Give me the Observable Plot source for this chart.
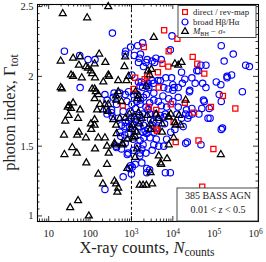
<!DOCTYPE html>
<html><head><meta charset="utf-8">
<script src="https://cdn.jsdelivr.net/npm/d3@7"></script>
<script src="https://cdn.jsdelivr.net/npm/@observablehq/plot@0.6"></script>
<style>body{margin:0;background:#fff}svg{display:block}</style>
</head><body><div id="chart"></div>
<script>
// log10(X-ray counts), photon index  — M_BH–sigma* sample (black triangles)
const triLogCounts = [1.34,1.93,2.44,1.29,1.59,1.76,1.73,1.90,1.95,2.02,2.22,2.37,2.85,2.83,1.54,1.59,1.80,2.05,2.12,2.44,2.46,2.68,2.32,2.88,2.93,1.29,1.32,2.05,2.11,2.68,2.63,2.63,2.44,1.49,1.59,1.46,1.54,1.76,1.48,1.40,1.71,2.02,2.03,1.37,1.69,1.73,1.90,1.57,1.38,1.68,1.91,1.71,1.52,1.97,2.12,2.41,2.45,2.59,2.78,2.41,2.20,2.31,2.59,2.63,2.68,2.66,2.90,2.11,2.11,2.20,2.36,2.63,2.64,2.56,2.72,2.60,2.79,3.13,3.09,3.03,3.09,3.20,3.28,3.36,3.90,4.15,4.19,4.07,3.74,3.46,3.46,4.02,3.90,3.66,3.86,3.70,3.72,3.46,3.50,5.16,3.54,4.05,4.21,4.13,3.48,3.40,3.44,3.36,4.31,3.10,3.17,3.15,3.60,3.64,3.89,3.95,3.38,2.11,2.14,2.20,2.11,2.24,2.36,2.17,2.32,2.44,2.76,2.95,3.07,3.17,3.02,2.85,3.74,4.05,3.20,3.12,3.00,2.90,3.25];
const triGamma     = [2.45,2.42,2.50,2.11,2.13,2.14,2.08,2.07,2.06,2.04,2.16,2.10,2.14,2.07,2.01,2.00,1.99,2.02,1.99,2.01,2.00,1.97,1.96,1.97,2.00,1.92,1.91,1.91,2.09,1.89,1.86,1.83,1.80,1.79,1.81,1.78,1.77,1.76,1.72,1.68,1.70,1.66,1.62,1.58,1.58,1.60,1.56,1.49,1.44,1.45,1.38,1.11,1.06,1.00,1.48,1.50,1.45,1.52,1.52,1.37,1.30,1.23,1.25,1.23,1.20,1.17,1.34,1.69,1.65,1.56,1.56,1.65,1.59,1.69,1.70,1.51,1.51,1.48,1.42,1.56,1.57,1.22,1.22,1.22,1.71,1.72,1.65,1.65,1.66,1.66,1.62,1.56,1.51,1.43,1.41,1.38,1.37,1.31,1.23,1.44,2.28,2.09,2.10,2.08,2.05,2.04,2.01,1.93,1.83,1.89,1.86,1.84,1.73,1.70,1.71,1.73,1.72,1.91,1.89,1.87,1.84,1.80,1.80,1.76,1.76,1.75,1.82,1.73,1.71,1.74,1.65,1.70,1.60,1.67,1.66,1.60,1.62,1.55,1.70];

// broad Hbeta/Halpha sample (blue circles)
const cirLogCounts = [1.38,1.75,1.95,2.12,1.76,2.54,2.98,2.86,2.85,3.19,3.17,3.29,3.35,3.01,3.17,3.21,3.37,2.93,3.05,2.85,2.72,2.56,2.58,2.36,2.41,2.89,3.01,3.13,3.21,3.29,3.36,2.40,2.52,2.64,2.80,2.97,2.41,2.52,2.54,2.68,2.85,2.93,3.03,3.12,3.21,3.29,3.33,3.37,3.28,3.09,3.17,2.95,2.85,2.76,2.72,2.74,3.21,3.28,3.25,3.21,3.20,2.64,2.76,2.90,3.09,2.98,2.95,3.37,3.37,2.80,2.36,2.63,2.92,3.02,2.84,2.92,3.04,3.46,3.58,3.70,3.82,3.66,3.54,3.46,4.31,4.39,4.47,4.63,4.10,3.51,3.62,3.54,3.66,3.78,4.31,4.35,3.82,3.94,3.44,4.90,5.20,4.68,5.17,5.46,5.24,5.76,5.85,3.15,3.27,3.07,3.22,3.38,3.56,4.21,4.58,4.62,4.29,4.46,5.31,5.05,5.68,3.83,3.97,3.64,3.54,3.40,3.24,3.89,4.03,4.13,3.14,3.27,3.42,3.54,4.54,4.72,4.74,4.76,5.17,3.76,4.13,4.41,3.22,3.44,3.54,3.72,4.13,4.33,4.70,4.85,5.17,3.40,3.27,3.79,3.80,4.21,4.36,4.25,3.98,3.94,3.50,3.59,3.72,4.68,4.80,5.31,5.42,4.80,5.16,5.12,4.88,4.23,4.00,4.00,4.40,4.46,3.78,3.70,3.50,3.10,3.35,3.00,3.40,3.55,3.60,3.30,3.45,3.15,2.85,3.05,3.35,3.50,3.95,4.05,3.85,3.00,3.25,3.85,4.00,3.65,3.90,3.20];
const cirGamma     = [2.18,2.15,2.12,2.12,1.92,2.31,2.21,2.18,2.16,2.13,2.10,2.07,2.10,2.01,1.96,1.93,1.93,1.89,1.87,1.87,1.88,1.85,1.88,1.87,1.83,1.82,1.80,1.82,1.80,1.85,1.87,1.76,1.76,1.80,1.75,1.75,1.73,1.74,1.71,1.70,1.67,1.68,1.66,1.69,1.68,1.65,1.61,1.59,1.60,1.61,1.64,1.64,1.64,1.65,1.60,1.57,1.54,1.51,1.48,1.45,1.43,1.49,1.48,1.44,1.37,1.36,1.34,1.34,1.31,1.28,1.19,1.50,1.45,1.35,1.58,1.59,1.55,1.73,1.73,1.72,1.73,1.69,1.68,1.69,1.73,1.72,1.73,1.73,1.73,1.65,1.63,1.51,1.50,1.50,1.52,1.53,1.31,1.31,1.33,1.70,1.63,1.51,2.22,2.16,2.11,2.08,2.07,2.22,2.24,2.15,2.16,2.12,2.10,2.03,2.04,2.04,1.98,1.99,1.99,1.96,1.89,1.99,1.99,1.97,1.95,1.95,1.96,1.91,1.92,1.92,1.87,1.92,1.92,1.88,1.95,1.95,1.83,1.82,1.82,1.86,1.85,1.90,1.83,1.81,1.83,1.79,1.78,1.76,1.77,1.70,1.62,1.76,1.73,1.71,1.66,1.70,1.70,1.64,2.29,2.19,2.11,2.13,2.12,2.08,2.08,2.00,2.01,1.92,1.94,1.87,1.77,1.95,1.94,1.90,1.89,1.77,1.92,1.97,1.97,1.77,1.78,1.70,1.62,1.60,1.55,1.56,1.56,1.50,1.52,1.47,1.45,1.47,1.60,1.62,1.55,1.30,1.38,1.78,1.82,1.82,1.84,1.72];

// direct / reverberation-mapping sample (red squares)
const sqLogCounts = [3.79,4.11,3.30,3.90,4.48,3.75,3.89,4.59,4.76,3.64,3.32,3.38,3.09,3.66,5.21,4.29,3.95,3.42,4.92,5.51,4.51,3.60,4.02,3.60,3.05,2.79,3.62,4.07,4.62,4.98,4.71];
const sqGamma     = [2.33,2.27,2.21,2.18,2.14,2.09,2.07,2.09,2.02,2.03,1.98,2.00,1.99,1.92,1.86,1.81,1.80,1.78,1.78,1.77,1.74,1.76,1.67,1.62,1.91,1.79,1.61,1.53,1.54,1.48,1.21];

const xTickValues = [10, 100, 1e3, 1e4, 1e5, 1e6];
const xTickLabels = ["10", "100", "10^3", "10^4", "10^5", "10^6"];
const yTickValues = [1, 1.5, 2, 2.5];
const yTickLabels = ["1", "1.5", "2", "2.5"];
const dividerCounts = [1000];

const W = 266, H = 262, mL = 37, mR = 8, mT = 4, mB = 41;
const pW = W - mL - mR, pH = H - mT - mB;
const xDomain = [Math.pow(10, 0.73), Math.pow(10, 6.07)];
const yDomain = [0.96, 2.515];

const toRows = (lx, g) => lx.map((v, i) => ({counts: Math.pow(10, v), gamma: g[i]}));
const tri = toRows(triLogCounts, triGamma);
const cir = toRows(cirLogCounts, cirGamma);
const sq = toRows(sqLogCounts, sqGamma);

const xMinor = [];
for (let k = 0; k <= 6; k++) for (let m = 2; m <= 9; m++) {
  const v = m * Math.pow(10, k);
  if (v > xDomain[0] && v < xDomain[1]) xMinor.push(v);
}
const yMinor = d3.range(0, 40).map(i => +(0.95 + i * 0.05).toFixed(2))
  .filter(v => v > yDomain[0] && v < yDomain[1] && !yTickValues.includes(v));
const xMaj = xTickValues.filter(v => v <= xDomain[1]);

const tickStyle = {stroke: "black", strokeWidth: 0.8};
const labelMap = new Map(xTickValues.map((v, i) => [v, xTickLabels[i]]));
const yLabelMap = new Map(yTickValues.map((v, i) => [v, yTickLabels[i]]));

const chart = Plot.plot({
  width: W, height: H,
  marginLeft: mL, marginRight: mR, marginTop: mT, marginBottom: mB,
  style: {fontFamily: "'Liberation Serif', serif", fontSize: "10.5px", color: "#222", background: "white"},
  x: {type: "log", domain: xDomain, axis: null},
  y: {domain: yDomain, axis: null},
  marks: [
    Plot.ruleX(dividerCounts, {x: d => d, stroke: "black", strokeWidth: 1, strokeDasharray: "3,2.2"}),
    Plot.dot(cir, {x: "counts", y: "gamma", r: 3.2, stroke: "#0000ff", strokeWidth: 1.15, fill: "none"}),
    Plot.dot(sq, {x: "counts", y: "gamma", symbol: "square", r: 2.9, stroke: "#ff0000", strokeWidth: 1.25, fill: "none"}),
    Plot.dot(tri, {x: "counts", y: "gamma", symbol: "triangle", r: 2.6, stroke: "black", strokeWidth: 1.25, fill: "none"}),
    // inward ticks
    Plot.tickX(xMaj, {x: d => d, insetTop: pH - 5, ...tickStyle}),
    Plot.tickX(xMaj, {x: d => d, insetBottom: pH - 5, ...tickStyle}),
    Plot.tickX(xMinor, {x: d => d, insetTop: pH - 2.5, ...tickStyle}),
    Plot.tickX(xMinor, {x: d => d, insetBottom: pH - 2.5, ...tickStyle}),
    Plot.tickY(yTickValues, {y: d => d, insetRight: pW - 5, ...tickStyle}),
    Plot.tickY(yTickValues, {y: d => d, insetLeft: pW - 5, ...tickStyle}),
    Plot.tickY(yMinor, {y: d => d, insetRight: pW - 2.5, ...tickStyle}),
    Plot.tickY(yMinor, {y: d => d, insetLeft: pW - 2.5, ...tickStyle}),
    Plot.axisX({ticks: xMaj, tickSize: 0, tickPadding: 8, tickFormat: d => labelMap.get(d), label: null, fontSize: 10.5}),
    Plot.axisY({ticks: yTickValues, tickSize: 0, tickPadding: 4, tickFormat: d => yLabelMap.get(d), label: null, fontSize: 10.5}),
    Plot.frame({stroke: "black", strokeWidth: 1.1})
  ]
});

const svg = d3.select(chart);
// superscript tick labels
svg.selectAll("text").each(function() {
  const t = this.textContent;
  if (t && t.includes("^")) {
    const [base, exp] = t.split("^");
    const el = d3.select(this);
    el.text(null);
    el.append("tspan").text(base);
    el.append("tspan").attr("dy", "-0.45em").attr("font-size", "0.72em").text(exp);
  }
});

const ff = "'Liberation Serif', serif";
// y label
const yl = svg.append("text").attr("transform", `translate(15,${mT + pH / 2}) rotate(-90)`)
  .attr("text-anchor", "middle").attr("font-family", ff).attr("font-size", 16.5).attr("fill", "#222");
yl.append("tspan").text("photon index, Γ");
yl.append("tspan").attr("dy", "0.3em").attr("font-size", "0.7em").text("tot");
// x label
const xl = svg.append("text").attr("x", 147).attr("y", 253)
  .attr("text-anchor", "middle").attr("font-family", ff).attr("font-size", 16.5).attr("fill", "#222");
xl.append("tspan").text("X-ray counts, ");
xl.append("tspan").attr("font-style", "italic").text("N");
xl.append("tspan").attr("dy", "0.3em").attr("font-size", "0.7em").text("counts");

// keep frame below the boxes
const frame = svg.select('[aria-label="frame"]');
if (!frame.empty()) chart.appendChild(frame.node());

// legend
const lg = svg.append("g").attr("font-family", ff).attr("font-size", 8.8).attr("fill", "#222")
  .attr("text-anchor", "start");
lg.append("rect").attr("x", 178).attr("y", 5.5).attr("width", 78).attr("height", 32)
  .attr("fill", "white").attr("stroke", "#333").attr("stroke-width", 0.9);
const items = [
  {sym: d3.symbolSquare, r: 2.7, color: "#ff0000", y: 12},
  {sym: d3.symbolCircle, r: 3.0, color: "#0000ff", y: 22},
  {sym: d3.symbolTriangle, r: 2.5, color: "black", y: 31.5}
];
items.forEach(it => {
  lg.append("path").attr("d", d3.symbol(it.sym, Math.PI * it.r * it.r)())
    .attr("transform", `translate(185,${it.y})`).attr("fill", "none")
    .attr("stroke", it.color).attr("stroke-width", 1.2);
});
lg.append("text").attr("x", 193).attr("y", 15).attr("text-anchor", "start").text("direct / rev-map");
lg.append("text").attr("x", 193).attr("y", 25).attr("text-anchor", "start").text("broad Hβ/Hα");
const t3 = lg.append("text").attr("x", 193).attr("y", 34.3).attr("text-anchor", "start");
t3.append("tspan").attr("font-style", "italic").text("M");
t3.append("tspan").attr("dy", "0.25em").attr("font-size", "0.7em").text("BH");
t3.append("tspan").attr("dy", "-0.25em").text(" − ");
t3.append("tspan").attr("font-style", "italic").text("σ");
t3.append("tspan").attr("dy", "0.25em").attr("font-size", "0.7em").text("*");

// info box
const bx = svg.append("g").attr("font-family", ff).attr("font-size", 10).attr("fill", "#222");
bx.append("rect").attr("x", 177).attr("y", 188).attr("width", 81).attr("height", 33)
  .attr("fill", "white").attr("stroke", "#333").attr("stroke-width", 0.9);
bx.append("text").attr("x", 218).attr("y", 199).attr("text-anchor", "middle").text("385 BASS AGN");
const z = bx.append("text").attr("x", 218).attr("y", 212.5).attr("text-anchor", "middle");
z.append("tspan").text("0.01 < ");
z.append("tspan").attr("font-style", "italic").text("z");
z.append("tspan").text(" < 0.5");

document.getElementById("chart").appendChild(chart);
</script>
</body></html>
